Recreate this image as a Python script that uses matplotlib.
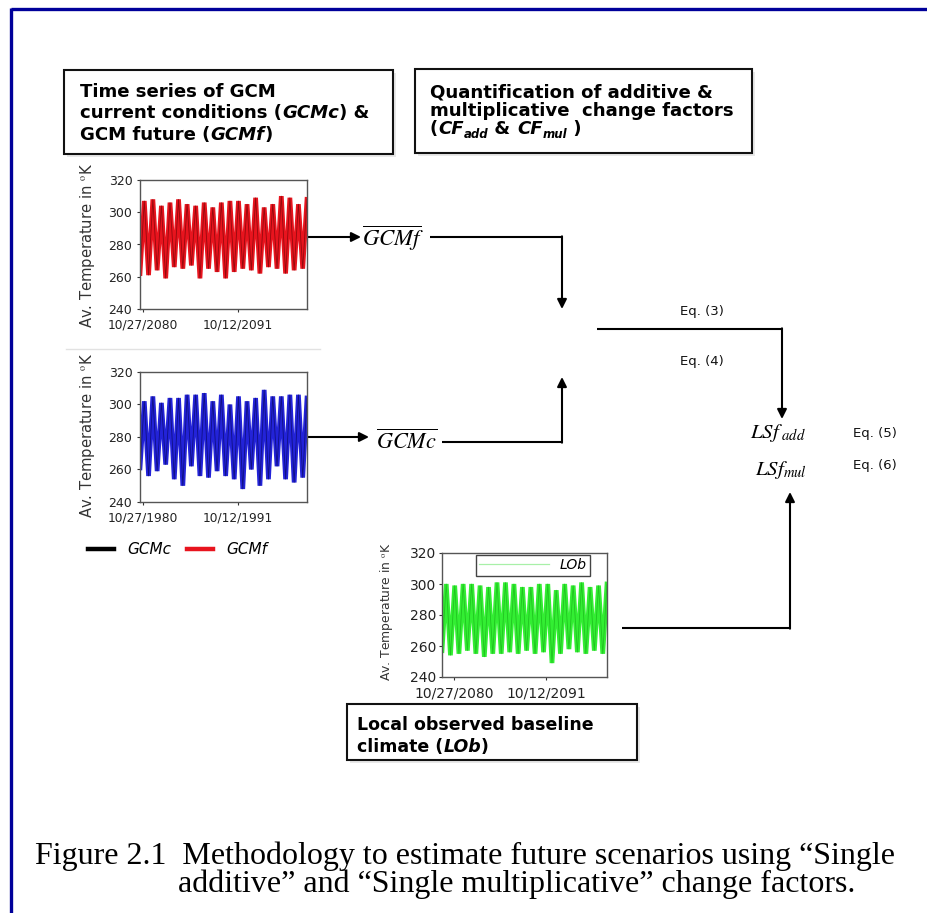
import matplotlib
matplotlib.use("Agg")
import matplotlib.pyplot as plt
import numpy as np
from matplotlib.lines import Line2D
from matplotlib.patches import Rectangle

plt.rcParams["font.family"] = ["DejaVu Sans"]
plt.rcParams["mathtext.fontset"] = "stix"

# ---------------- data ----------------
yticks = [240, 260, 280, 300, 320]

gcmf_peaks = [307, 308, 304, 306, 308, 305, 304, 306, 303, 306,
              307, 307, 305, 309, 303, 305, 310, 309, 305, 308]
gcmf_troughs = [262, 261, 264, 259, 266, 265, 267, 259, 265, 263,
                259, 263, 265, 264, 262, 266, 265, 262, 264, 265]

gcmc_peaks = [302, 305, 301, 304, 304, 306, 306, 307, 302, 306,
              300, 305, 302, 304, 309, 305, 305, 306, 306, 304]
gcmc_troughs = [261, 256, 259, 263, 254, 250, 262, 256, 255, 259,
                256, 254, 248, 260, 250, 254, 262, 254, 252, 255]

lob_peaks = [300, 299, 300, 300, 299, 298, 301, 301, 300, 298,
             298, 300, 300, 296, 300, 299, 301, 298, 299, 300]
lob_troughs = [257, 254, 255, 257, 255, 253, 255, 255, 256, 255,
               257, 255, 256, 249, 255, 258, 256, 255, 257, 255]

fut_ticklabels = ["10/27/2080", "10/12/2091"]
cur_ticklabels = ["10/27/1980", "10/12/1991"]
tick_years_offset = [0.0, 10.96]   # years after first date

legend_labels = ["GCMc", "GCMf"]
eq_labels = ["Eq. (3)", "Eq. (4)", "Eq. (5)", "Eq. (6)"]

caption1 = "Figure 2.1  Methodology to estimate future scenarios using \u201cSingle"
caption2 = "additive\u201d and \u201cSingle multiplicative\u201d change factors."

# ---------------- figure ----------------
W, H = 928, 913
fig = plt.figure(figsize=(W / 100, H / 100), dpi=100)
ax0 = fig.add_axes([0, 0, 1, 1])
ax0.set_xlim(0, W)
ax0.set_ylim(H, 0)
ax0.axis("off")
renderer = fig.canvas.get_renderer()


def adv(s, **kw):
    t1 = ax0.text(0, 0, "|" + s + "|", **kw)
    t2 = ax0.text(0, 0, "||", **kw)
    w = t1.get_window_extent(renderer).width - t2.get_window_extent(renderer).width
    t1.remove()
    t2.remove()
    return w


def rich(x, y, segs, size):
    cur = x
    for s, st in segs:
        kw = dict(fontsize=size, fontweight="bold", family="DejaVu Sans",
                  style="normal")
        st = dict(st)
        dy = st.pop("dy", 0)
        kw.update(st)
        ax0.text(cur, y + dy, s, va="baseline", ha="left", **kw)
        cur += adv(s, **kw)


def fig_axes(l, t, r, b):
    return fig.add_axes([l / W, 1 - b / H, (r - l) / W, (b - t) / H])


def zigzag(peaks, troughs):
    vals = []
    for tr, pk in zip(troughs, peaks):
        vals += [tr, pk]
    return vals


def ts_plot(box, peaks, troughs, color, dark, t0, xlim_off, ticklabels,
            ysize, xsize, ylsize, ylab_xy, ypad, xpad, tlen):
    l, t, r, b = box
    ax = fig_axes(l, t, r, b)
    vals = zigzag(peaks, troughs)
    x0, x1 = t0 + xlim_off[0], t0 + xlim_off[1]
    xs = np.linspace(x0, x1, len(vals))
    ax.plot(xs, vals, color=color, lw=3.4, solid_joinstyle="miter")
    ax.plot(xs, vals, color=dark, lw=0.6, alpha=0.55)
    ax.set_xlim(x0, x1)
    ax.set_ylim(240, 320)
    ax.set_yticks(yticks)
    ax.set_yticklabels([str(v) for v in yticks], fontsize=ysize)
    ax.set_xticks([t0 + o for o in tick_years_offset])
    ax.set_xticklabels(ticklabels, fontsize=xsize)
    ax.tick_params(axis="y", length=tlen, width=0.8, pad=ypad, colors="#333333",
                   labelcolor="#222222")
    ax.tick_params(axis="x", length=tlen, width=0.8, pad=xpad, colors="#333333",
                   labelcolor="#222222")
    for sp in ax.spines.values():
        sp.set_color("#555555")
        sp.set_linewidth(1.0)
    ax.set_ylabel("Av. Temperature in $^{\\mathrm{o}}$K", fontsize=ylsize,
                  family="DejaVu Sans", color="#333333")
    ax.yaxis.set_label_coords(*ylab_xy)
    ax.patch.set_facecolor("white")
    return ax


# time series panels
ts_plot((140, 180, 307, 309), gcmf_peaks, gcmf_troughs, "#e8141e", "#500000",
        2080.82, (-0.35, 18.91), fut_ticklabels, 9, 8.8, 10.6,
        (-0.26, 0.49), 3.0, 4.5, 2.5)
ts_plot((140, 372, 307, 502), gcmc_peaks, gcmc_troughs, "#2323d8", "#000040",
        1980.82, (-0.35, 18.91), cur_ticklabels, 9, 8.8, 10.6,
        (-0.26, 0.515), 3.0, 4.5, 2.5)
axg = ts_plot((442, 553, 607, 677), lob_peaks, lob_troughs, "#33ee33", "#10a010",
              2080.82, (-1.43, 18.23), fut_ticklabels, 10.0, 10.0, 8.9,
              (-0.285, 0.53), 2.0, 4.5, 2.0)
axg.legend([Line2D([], [], color="#a8f0a8", lw=0.9)], ["LOb"],
           loc="upper right", bbox_to_anchor=(0.9, 0.985), handlelength=5.0,
           prop=dict(style="italic", size=10), frameon=True, fancybox=False,
           edgecolor="#444444", borderpad=0.25, handletextpad=0.8,
           borderaxespad=0.0, framealpha=1)

# legend under blue panel
leg = ax0.legend([Line2D([], [], color="black", lw=3.2),
                  Line2D([], [], color="#e8141e", lw=3.2)], legend_labels,
                 ncol=2, loc="center left", bbox_to_anchor=(88, 550),
                 bbox_transform=ax0.transData, frameon=False,
                 prop=dict(style="italic", size=11), handlelength=1.7,
                 handletextpad=0.9, columnspacing=1.0, borderpad=0,
                 borderaxespad=0)

# ---------------- frame & boxes ----------------
ax0.plot([11, W], [9.5, 9.5], color="#00009a", lw=2.4, solid_capstyle="butt")
ax0.plot([11.5, 11.5], [8.3, H], color="#00009a", lw=2.4, solid_capstyle="butt")
ax0.plot([66, 320], [349, 349], color="#e2e2e2", lw=1.0)

for (l, t, r, b) in [(64, 70, 393, 154), (415, 69, 752, 153), (347, 704, 637, 760)]:
    ax0.add_patch(Rectangle((l + 3, t + 3), r - l, b - t, fc="#e8e8e8", ec="none",
                            zorder=1))
    ax0.add_patch(Rectangle((l, t), r - l, b - t, fc="white", ec="#111111",
                            lw=1.5, zorder=2))

B = {}
BI = {"style": "italic"}
SUB = {"style": "italic", "fontsize": 8.5, "dy": 4}
rich(80, 97, [("Time series of GCM", B)], 13.1)
rich(80, 118, [("current conditions (", B), ("GCMc", BI), (") &", B)], 13.1)
rich(80, 140, [("GCM future (", B), ("GCMf", BI), (")", B)], 13.1)

rich(430, 97, [("Quantification of additive &", B)], 13.1)
rich(430, 116, [("multiplicative  change factors", B)], 13.1)
rich(430, 134, [("(", B), ("CF", BI), ("add", SUB), (" & ", B), ("CF", BI),
                ("mul", SUB), (" )", B)], 13.1)

rich(357, 730, [("Local observed baseline", B)], 12.5)
rich(357, 752, [("climate (", B), ("LOb", BI), (")", B)], 12.5)

# ---------------- arrows ----------------
AP = dict(arrowstyle="-|>", lw=1.5, color="black", mutation_scale=14,
          shrinkA=0, shrinkB=0)
LK = dict(color="black", lw=1.5, solid_capstyle="butt")

ax0.annotate("", xy=(361, 237), xytext=(307, 237), arrowprops=AP)
ax0.plot([430, 562], [237, 237], **LK)
ax0.annotate("", xy=(562, 309), xytext=(562, 236.3), arrowprops=AP)

ax0.annotate("", xy=(369, 437), xytext=(307, 437), arrowprops=AP)
ax0.plot([442, 562], [442, 442], **LK)
ax0.annotate("", xy=(562, 377), xytext=(562, 442.7), arrowprops=AP)

ax0.plot([597, 782], [329, 329], **LK)
ax0.annotate("", xy=(782, 419), xytext=(782, 328.3), arrowprops=AP)

ax0.plot([622, 790], [628, 628], **LK)
ax0.annotate("", xy=(790, 492), xytext=(790, 628.7), arrowprops=AP)

# ---------------- formula texts ----------------
ax0.text(362, 238, r"$\overline{GCMf}$", fontsize=16.5, ha="left", va="center")
ax0.text(376, 441, r"$\overline{GCMc}$", fontsize=16, ha="left", va="center")
ax0.text(750, 433, r"$LSf_{\ add}$", fontsize=15, ha="left", va="center")
ax0.text(755, 470, r"$LSf_{mul}$", fontsize=15, ha="left", va="center")

for (x, y), s in zip([(680, 312), (680, 362), (853, 433), (853, 465)], eq_labels):
    ax0.text(x, y, s, fontsize=9.5, ha="left", va="center", color="#111111")

# ---------------- caption ----------------
ax0.text(35, 864, caption1, family="Liberation Serif", fontsize=23,
         ha="left", va="baseline")
ax0.text(178, 892, caption2, family="Liberation Serif", fontsize=23,
         ha="left", va="baseline")

fig.savefig("out.png", dpi=100, facecolor="white")
